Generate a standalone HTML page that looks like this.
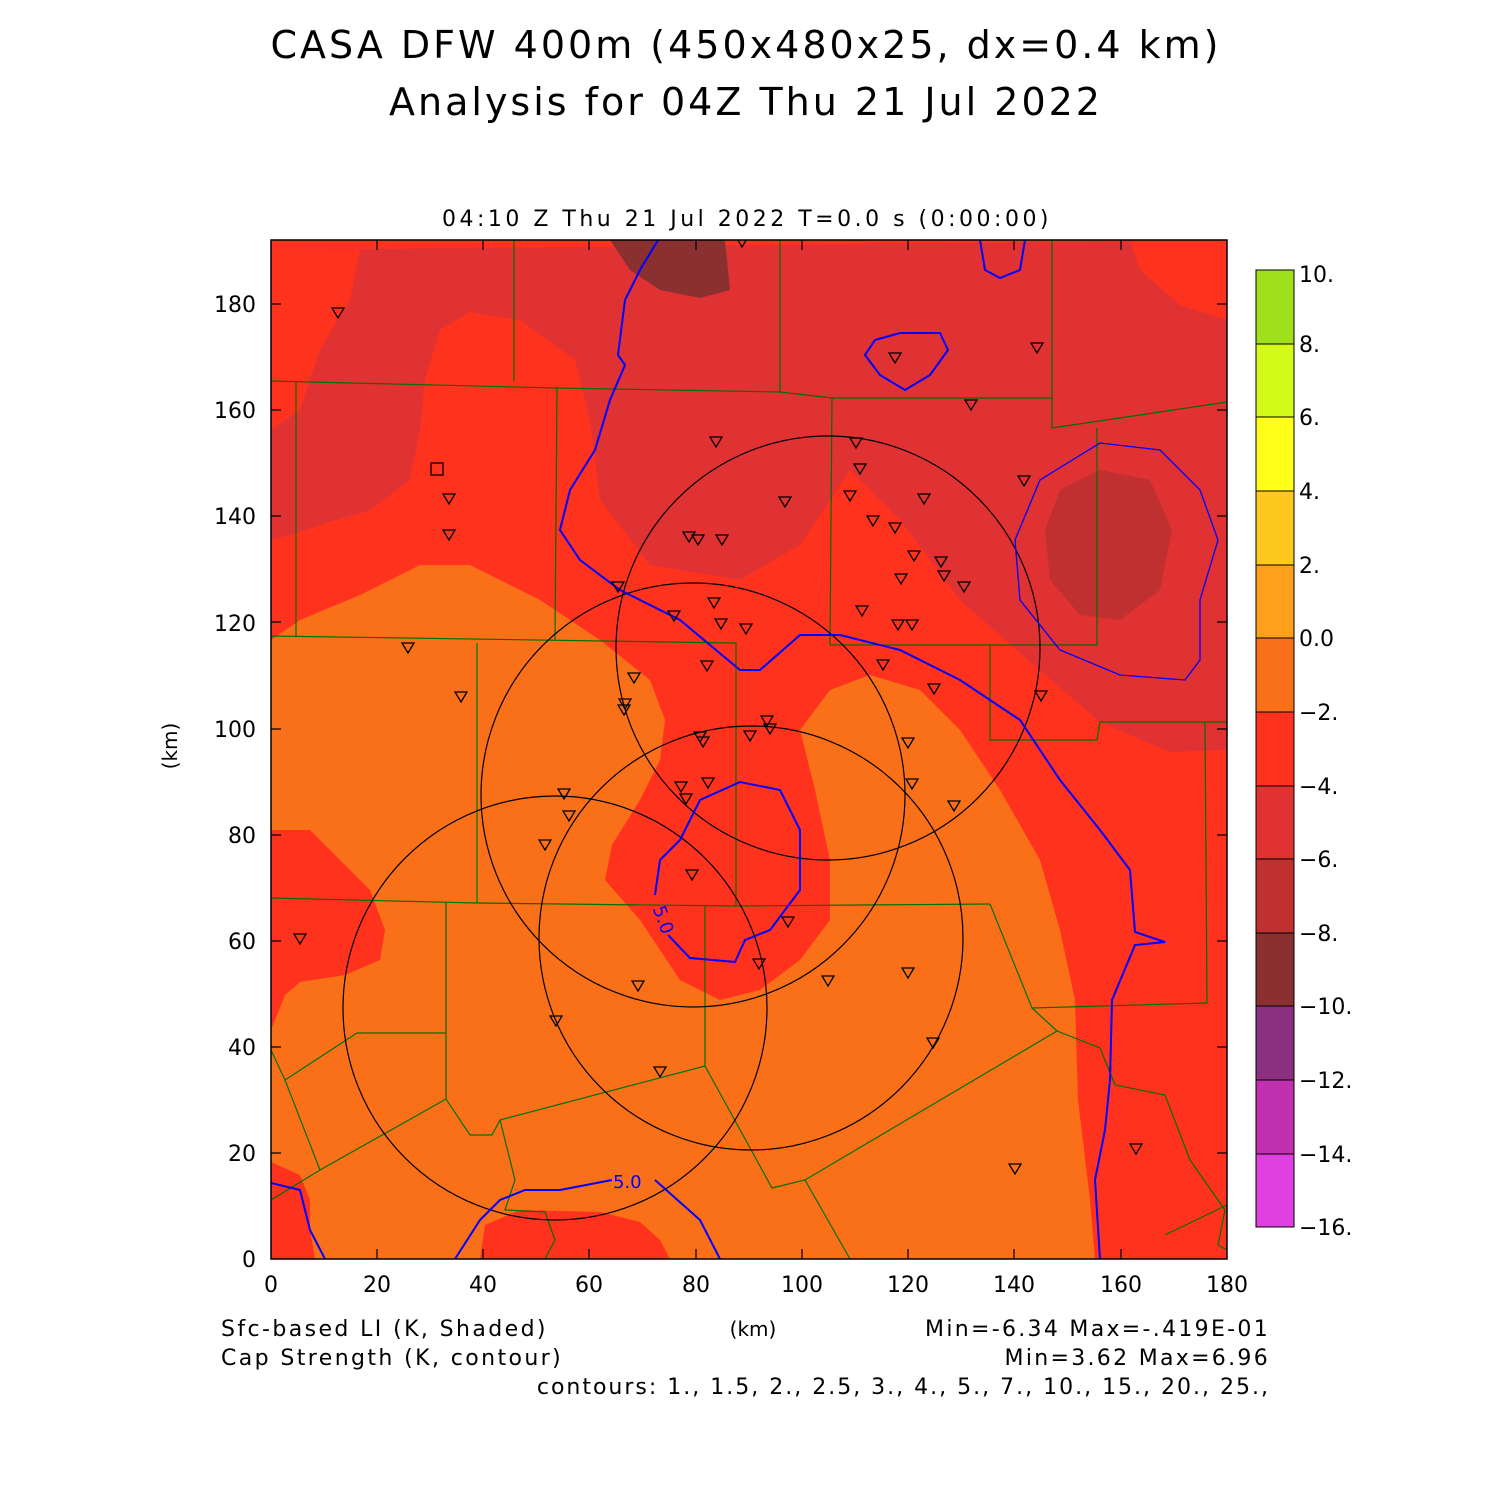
<!DOCTYPE html>
<html><head><style>body{margin:0;background:#fff}svg{display:block}text{font-family:"DejaVu Sans","Liberation Sans",sans-serif}</style></head><body>
<svg width="1500" height="1500" viewBox="0 0 1500 1500" xmlns="http://www.w3.org/2000/svg">
<rect width="1500" height="1500" fill="#fff"/>
<text x="746" y="58" font-size="38" text-anchor="middle" letter-spacing="3" fill="#000">CASA DFW 400m (450x480x25, dx=0.4 km)</text>
<text x="746" y="115" font-size="38" text-anchor="middle" letter-spacing="3" fill="#000">Analysis for 04Z Thu 21 Jul 2022</text>
<text x="747" y="226" font-size="22" text-anchor="middle" letter-spacing="3.5" fill="#000">04:10 Z Thu 21 Jul 2022   T=0.0 s (0:00:00)</text>
<defs><clipPath id="c"><rect x="271" y="240" width="956" height="1019"/></clipPath></defs>
<g clip-path="url(#c)">
<rect x="271" y="240" width="956" height="1019" fill="#FF321E"/>
<path fill="#E03232" d="M271,250 L1227,240 L1227,750 L1170,752 L1100,722 L1030,662 L960,600 L900,520 L850,470 L800,545 L740,580 L650,565 L600,500 L590,420 L575,360 L520,320 L470,312 L440,330 L425,380 L420,430 L410,480 L370,510 L320,525 L290,535 L271,540 L271,430 L300,410 L320,350 L350,300 L360,250Z"/>
<path fill="#FF321E" d="M1130,240 L1227,240 L1227,320 L1180,305 L1140,270Z"/>
<path fill="#C03030" d="M1060,490 L1100,470 L1150,480 L1172,530 L1160,590 L1120,620 L1080,615 L1050,580 L1045,530Z"/>
<path fill="#8B3030" d="M610,240 L725,240 L730,290 L700,298 L660,290 L630,270Z"/>
<path fill="#FA7019" d="M271,640 L300,620 L360,595 L420,565 L470,565 L540,600 L600,640 L650,680 L665,720 L660,760 L640,800 L612,845 L605,880 L640,920 L680,980 L720,1000 L760,990 L800,960 L830,920 L830,860 L815,790 L800,730 L830,690 L870,675 L920,690 L960,730 L1000,790 L1040,860 L1060,930 L1075,1000 L1078,1100 L1090,1200 L1095,1259 L271,1259Z"/>
<path fill="#FF321E" d="M271,830 L310,830 L340,860 L370,890 L385,930 L380,960 L345,975 L300,982 L285,995 L271,1030Z"/>
<path fill="#FF321E" d="M271,1162 L300,1175 L310,1200 L310,1230 L315,1259 L271,1259Z"/>
<path fill="#FF321E" d="M480,1259 L485,1225 L520,1210 L600,1212 L640,1222 L660,1240 L670,1259Z"/>
<g fill="none" stroke="#007000" stroke-width="1.2">
<path d="M271,381 L557,388 L780,392 L832,398 L1052,398"/><path d="M296,381 L296,636"/><path d="M514,240 L514,381"/><path d="M557,388 L555,640"/><path d="M780,240 L780,392"/><path d="M832,398 L830,645"/><path d="M1052,240 L1052,428 L1227,402"/><path d="M1097,428 L1097,645 L830,645"/><path d="M271,636 L736,643 L736,906"/><path d="M477,643 L477,903"/><path d="M271,898 L477,903 L736,906 L990,904"/><path d="M990,645 L990,740 L1097,740 L1100,722 L1227,722"/><path d="M1205,722 L1207,1003 L1032,1008 L990,904"/><path d="M446,903 L446,1033 L357,1033 L285,1080 L271,1050"/><path d="M285,1080 L320,1170 L271,1200"/><path d="M320,1170 L446,1099 L470,1135 L492,1135 L500,1120 L705,1066 L705,906"/><path d="M705,1066 L772,1188 L805,1180 L1057,1031 L1100,1048 L1115,1085 L1165,1095 L1190,1160 L1225,1210 L1218,1245 L1227,1250"/><path d="M446,1099 L446,1033"/><path d="M500,1120 L515,1180 L505,1210 L545,1212 L555,1240 L545,1259"/><path d="M1057,1031 L1032,1008"/><path d="M805,1180 L850,1259"/><path d="M1165,1235 L1227,1205"/></g>
<g fill="none" stroke="#000" stroke-width="1.2">
<circle cx="828" cy="648" r="212"/><circle cx="693" cy="795" r="212"/><circle cx="751" cy="938" r="212"/><circle cx="555" cy="1008" r="212"/></g>
<g fill="none" stroke="#0000FF" stroke-width="2">
<path d="M658,240 L640,270 L625,300 L618,355 L625,365 L610,400 L595,450 L570,490 L560,530 L580,560 L620,590 L680,620 L740,670 L760,670 L800,635 L840,635 L900,650 L960,680 L1020,720 L1060,780 L1100,830 L1130,870 L1135,932 L1165,942 L1135,945 L1112,1000 L1110,1080 L1105,1130 L1095,1180 L1100,1259"/>
<path d="M668,935 L690,958 L735,962 L745,940 L770,930 L800,890 L800,830 L780,790 L740,782 L700,800 L680,840 L660,860 L655,895"/>
<path d="M900,333 L940,333 L948,350 L930,375 L905,390 L880,375 L865,355 L875,340Z"/>
<path d="M980,240 L985,270 L1000,278 L1020,270 L1025,240"/>
<path d="M271,1183 L300,1190 L310,1230 L325,1259"/>
<path d="M455,1259 L480,1220 L500,1200 L525,1190 L560,1190 L612,1180 M655,1180 L700,1220 L720,1259"/>
<path stroke-width="1.3" d="M1100,443 L1160,450 L1200,490 L1218,540 L1200,600 L1200,660 L1185,680 L1120,675 L1060,650 L1020,600 L1015,540 L1040,480 Z"/></g>
<text x="613" y="1188" font-size="18" fill="#0000FF">5.0</text>
<text x="648" y="915" font-size="18" fill="#0000FF" transform="rotate(70 655 915)">5.0</text>
<g fill="none" stroke="#000" stroke-width="1.3">
<path d="M332,308h12l-6,10z M736,237h12l-6,10z M889,353h12l-6,10z M1031,343h12l-6,10z M965,400h12l-6,10z M710,437h12l-6,10z M850,438h12l-6,10z M854,464h12l-6,10z M779,497h12l-6,10z M844,491h12l-6,10z M918,494h12l-6,10z M1018,476h12l-6,10z M867,516h12l-6,10z M889,523h12l-6,10z M683,532h12l-6,10z M692,535h12l-6,10z M716,535h12l-6,10z M908,551h12l-6,10z M935,557h12l-6,10z M938,571h12l-6,10z M895,574h12l-6,10z M958,582h12l-6,10z M612,582h12l-6,10z M668,611h12l-6,10z M708,598h12l-6,10z M856,606h12l-6,10z M715,619h12l-6,10z M740,624h12l-6,10z M892,620h12l-6,10z M906,620h12l-6,10z M402,643h12l-6,10z M701,661h12l-6,10z M877,660h12l-6,10z M628,673h12l-6,10z M455,692h12l-6,10z M928,684h12l-6,10z M1035,691h12l-6,10z M619,699h12l-6,10z M618,705h12l-6,10z M761,716h12l-6,10z M764,724h12l-6,10z M694,732h12l-6,10z M697,737h12l-6,10z M744,731h12l-6,10z M902,738h12l-6,10z M558,789h12l-6,10z M675,782h12l-6,10z M702,778h12l-6,10z M680,794h12l-6,10z M906,779h12l-6,10z M948,801h12l-6,10z M563,811h12l-6,10z M539,840h12l-6,10z M686,870h12l-6,10z M782,917h12l-6,10z M294,934h12l-6,10z M753,959h12l-6,10z M902,968h12l-6,10z M632,981h12l-6,10z M822,976h12l-6,10z M550,1016h12l-6,10z M927,1038h12l-6,10z M654,1067h12l-6,10z M1009,1164h12l-6,10z M1130,1144h12l-6,10z M443,494h12l-6,10z M443,530h12l-6,10z"/>
<rect x="431" y="463" width="12" height="12"/></g>
</g>
<rect x="271" y="240" width="956" height="1019" fill="none" stroke="#000" stroke-width="1.5"/>
<g font-size="22" fill="#000" text-anchor="end">
<text x="256" y="1267">0</text><text x="256" y="1161">20</text><text x="256" y="1055">40</text><text x="256" y="949">60</text><text x="256" y="843">80</text><text x="256" y="737">100</text><text x="256" y="631">120</text><text x="256" y="524">140</text><text x="256" y="418">160</text><text x="256" y="312">180</text></g>
<g font-size="22" fill="#000" text-anchor="middle">
<text x="271" y="1292">0</text><text x="377" y="1292">20</text><text x="483" y="1292">40</text><text x="589" y="1292">60</text><text x="696" y="1292">80</text><text x="802" y="1292">100</text><text x="908" y="1292">120</text><text x="1014" y="1292">140</text><text x="1121" y="1292">160</text><text x="1227" y="1292">180</text></g>
<text x="177" y="746" font-size="20" text-anchor="middle" transform="rotate(-90 177 746)">(km)</text>
<text x="753" y="1336" font-size="20" text-anchor="middle">(km)</text>
<g font-size="22" fill="#000">
<text x="221" y="1336" letter-spacing="2.4">Sfc-based LI (K, Shaded)</text>
<text x="221" y="1365" letter-spacing="2.4">Cap Strength (K, contour)</text>
<text x="1270" y="1336" text-anchor="end" letter-spacing="2.3">Min=-6.34 Max=-.419E-01</text>
<text x="1270" y="1365" text-anchor="end" letter-spacing="2.3">Min=3.62 Max=6.96</text>
<text x="1270" y="1394" text-anchor="end" letter-spacing="2">contours: 1., 1.5, 2., 2.5, 3., 4., 5., 7., 10., 15., 20., 25.,</text></g>
<g stroke="#000" stroke-width="1">
<rect x="1256" y="270" width="38" height="74" fill="#A0E01A"/><rect x="1256" y="344" width="38" height="73" fill="#D4FA1A"/><rect x="1256" y="417" width="38" height="74" fill="#FFFF1A"/><rect x="1256" y="491" width="38" height="74" fill="#FFC81E"/><rect x="1256" y="565" width="38" height="73" fill="#FFA01A"/><rect x="1256" y="638" width="38" height="74" fill="#FA7019"/><rect x="1256" y="712" width="38" height="74" fill="#FF321E"/><rect x="1256" y="786" width="38" height="73" fill="#E03232"/><rect x="1256" y="859" width="38" height="74" fill="#C03030"/><rect x="1256" y="933" width="38" height="73" fill="#8B3030"/><rect x="1256" y="1006" width="38" height="74" fill="#8B3080"/><rect x="1256" y="1080" width="38" height="74" fill="#C030B0"/><rect x="1256" y="1154" width="38" height="73" fill="#E040E0"/></g>
<g font-size="22" fill="#000">
<text x="1299" y="282">10.</text><text x="1299" y="352">8.</text><text x="1299" y="425">6.</text><text x="1299" y="499">4.</text><text x="1299" y="573">2.</text><text x="1299" y="646">0.0</text><text x="1299" y="720">−2.</text><text x="1299" y="794">−4.</text><text x="1299" y="867">−6.</text><text x="1299" y="941">−8.</text><text x="1299" y="1014">−10.</text><text x="1299" y="1088">−12.</text><text x="1299" y="1162">−14.</text><text x="1299" y="1235">−16.</text></g>
<path stroke="#000" stroke-width="1.2" d="M271,1153h10M271,1047h10M271,941h10M271,835h10M271,729h10M271,622h10M271,516h10M271,410h10M271,304h10M1227,1153h-10M1227,1047h-10M1227,941h-10M1227,835h-10M1227,729h-10M1227,622h-10M1227,516h-10M1227,410h-10M1227,304h-10M377,1259v-10M483,1259v-10M589,1259v-10M696,1259v-10M802,1259v-10M908,1259v-10M1014,1259v-10M1121,1259v-10M377,240v10M483,240v10M589,240v10M696,240v10M802,240v10M908,240v10M1014,240v10M1121,240v10"/>
</svg>
</body></html>
